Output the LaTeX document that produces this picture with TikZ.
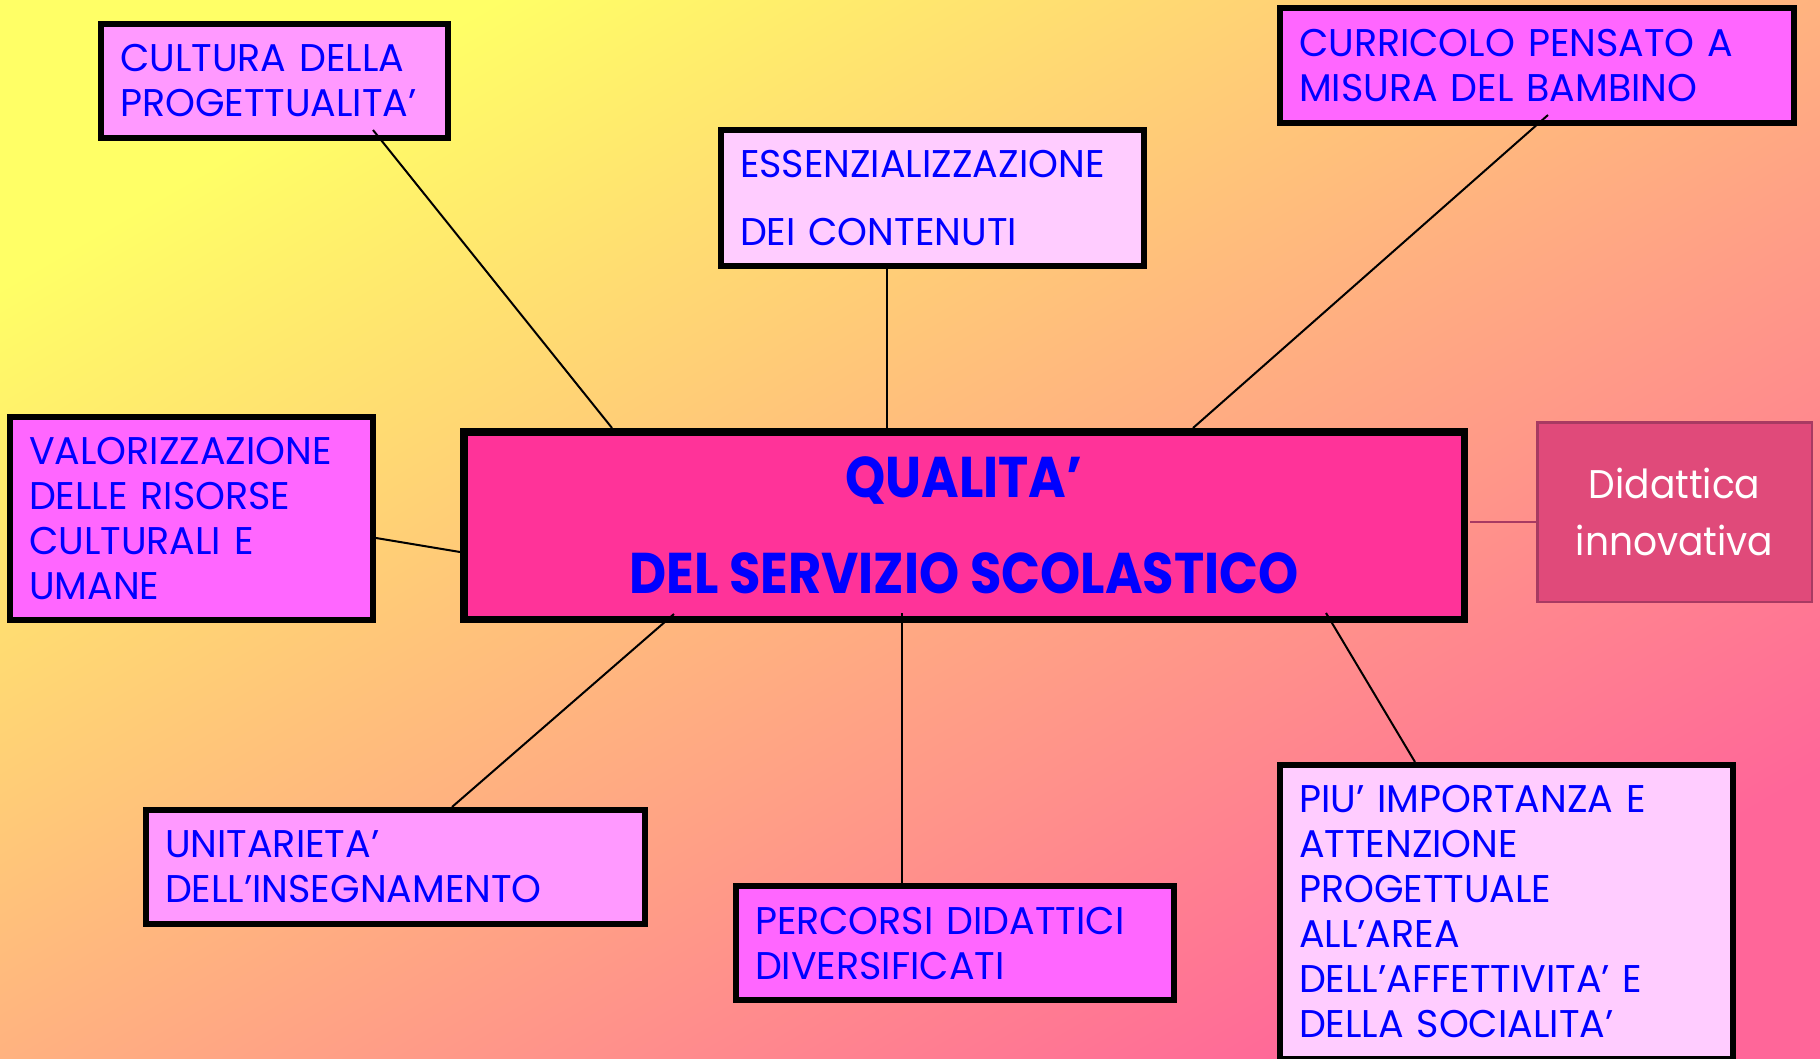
\documentclass[tikz,border=0pt]{standalone}
\usepackage{fontspec}
\usetikzlibrary{calc}
\newfontfamily\regf[FakeStretch=0.985]{Poppins}
\newfontfamily\boldf[FakeStretch=0.89]{Poppins}
\newfontfamily\didf[FakeStretch=0.94]{Poppins}
\definecolor{bgY}{HTML}{FFFF66}
\definecolor{bgP}{HTML}{FF6699}
\definecolor{pinkA}{HTML}{FF99FF}
\definecolor{pinkB}{HTML}{FF66FF}
\definecolor{pinkC}{HTML}{FFCCFF}
\definecolor{pinkD}{HTML}{FF3399}
\definecolor{didfill}{HTML}{E04A7A}
\definecolor{didline}{HTML}{A83A62}
\definecolor{txtblue}{HTML}{0000FF}
\tikzset{
  box/.style={draw=black, line width=6pt, rectangle, inner xsep=19pt, inner ysep=0pt,
    align=left, text=txtblue, font={\regf\fontsize{38.6}{45}\selectfont}},
  centralbox/.style={draw=black, line width=7.5pt, rectangle, fill=pinkD, inner sep=0pt,
    align=center, text=txtblue, font={\boldf\bfseries\fontsize{57.4}{96}\selectfont}},
  didbox/.style={draw=didline, line width=2.5pt, rectangle, fill=didfill, inner sep=0pt,
    align=center, text=white, font={\didf\fontsize{40}{57}\selectfont}},
  conn/.style={draw=black, line width=2pt},
  didconn/.style={draw=didline, line width=2pt}
}
\begin{document}
\begin{tikzpicture}[x=1pt,y=-1pt]
\useasboundingbox (0,0) rectangle (1820,1058);
\shade[top color=bgY, bottom color=bgP, shading angle=30] (0,0) rectangle (1820,1058);

\node[centralbox, minimum width=1000.5pt, minimum height=187.5pt] (central) at (964,525.5)
  {QUALITA’\\DEL SERVIZIO SCOLASTICO};

\node[box, fill=pinkA, minimum width=347pt, minimum height=114pt, text width=309pt] (cultura) at (274.5,81)
  {CULTURA DELLA\\PROGETTUALITA’};
\node[box, fill=pinkC, minimum width=423pt, minimum height=136pt, text width=385pt,
  font={\regf\fontsize{38.6}{68}\selectfont}] (essenz) at (932.5,198)
  {ESSENZIALIZZAZIONE\\DEI CONTENUTI};
\node[box, fill=pinkB, minimum width=514pt, minimum height=115pt, text width=476pt] (curricolo) at (1537,65.5)
  {CURRICOLO PENSATO A\\MISURA DEL BAMBINO};
\node[box, fill=pinkB, minimum width=363pt, minimum height=203pt, text width=325pt] (valor) at (191.5,518.5)
  {VALORIZZAZIONE\\DELLE RISORSE\\CULTURALI E\\UMANE};
\node[box, fill=pinkA, minimum width=499pt, minimum height=114pt, text width=461pt] (unit) at (395.5,867)
  {UNITARIETA’\\DELL’INSEGNAMENTO};
\node[box, fill=pinkB, minimum width=438pt, minimum height=114pt, text width=400pt] (percorsi) at (955,943)
  {PERCORSI DIDATTICI\\DIVERSIFICATI};
\node[box, fill=pinkC, minimum width=453pt, minimum height=294pt, text width=415pt] (piu) at (1506.5,912)
  {PIU’ IMPORTANZA E\\ATTENZIONE\\PROGETTUALE\\ALL’AREA\\DELL’AFFETTIVITA’ E\\DELLA SOCIALITA’};
\node[didbox, minimum width=274.5pt, minimum height=179.5pt] (didattica) at (1674.5,512)
  {Didattica\\innovativa};

\draw[conn] ([xshift=275pt,yshift=11pt]cultura.south west) -- ([xshift=152pt]central.north west);
\draw[conn] ([xshift=169pt]essenz.south west) -- ([xshift=427pt]central.north west);
\draw[conn] ([xshift=271pt,yshift=11pt]curricolo.south west) -- ([xshift=733pt]central.north west);
\draw[conn] ([yshift=-19.5pt]valor.east) -- ([yshift=-26.5pt]central.west);
\draw[conn] ([xshift=214pt,yshift=9pt]central.south west) -- ([xshift=309pt]unit.north west);
\draw[conn] ([xshift=442pt,yshift=10pt]central.south west) -- ([xshift=169pt]percorsi.north west);
\draw[conn] ([xshift=866pt,yshift=10pt]central.south west) -- ([xshift=138pt]piu.north west);
\draw[didconn] ([xshift=2pt,yshift=3.5pt]central.east) -- ([yshift=-10pt]didattica.west);
\end{tikzpicture}
\end{document}
